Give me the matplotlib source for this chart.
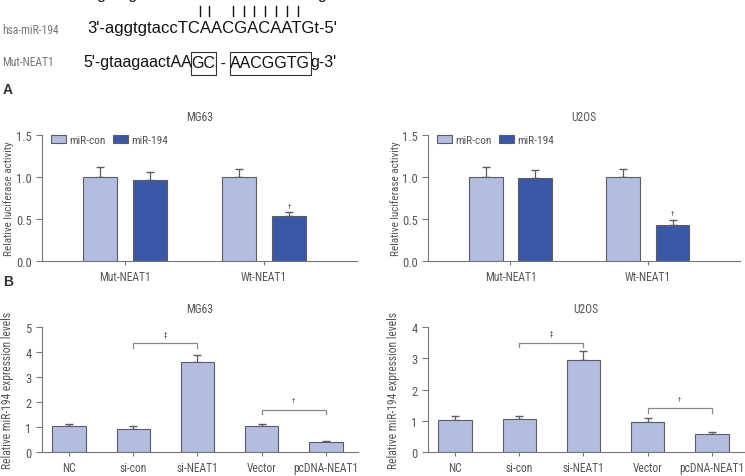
import matplotlib
matplotlib.use('Agg')
import matplotlib.pyplot as plt
from matplotlib import font_manager
from matplotlib.lines import Line2D
from matplotlib.patches import Rectangle
import numpy as np

# luciferase assay
luc_groups = ['Mut-NEAT1', 'Wt-NEAT1']
mg63_con = [1.00, 1.00]
mg63_con_err = [0.12, 0.10]
mg63_mir = [0.96, 0.53]
mg63_mir_err = [0.10, 0.05]
u2os_con = [1.00, 1.00]
u2os_con_err = [0.12, 0.10]
u2os_mir = [0.99, 0.43]
u2os_mir_err = [0.09, 0.06]

# expression levels
expr_groups = ['NC', 'si-con', 'si-NEAT1', 'Vector', 'pcDNA-NEAT1']
mg63_expr = [1.03, 0.91, 3.60, 1.03, 0.42]
mg63_expr_err = [0.10, 0.15, 0.30, 0.11, 0.04]
u2os_expr = [1.01, 1.05, 2.93, 0.96, 0.57]
u2os_expr_err = [0.13, 0.09, 0.29, 0.12, 0.07]

# brackets: (i, j, height, mark)
mg63_sig = [(1, 2, 4.35, '‡'), (3, 4, 1.70, '†')]
u2os_sig = [(1, 2, 3.50, '‡'), (3, 4, 1.40, '†')]

light = '#b3bde0'
dark = '#3b58a6'
edge = '#5c5c66'
grey = '#555555'

# pick a narrow font if there is one
names = {f.name for f in font_manager.fontManager.ttflist}
narrow = None
for n in ['Liberation Sans Narrow', 'Roboto Condensed', 'Open Sans Condensed', 'Arial Narrow', 'DejaVu Sans Condensed']:
    if n in names:
        narrow = n
        break
if narrow:
    cond = [narrow, 'DejaVu Sans']
    k = 1.0
else:
    cond = ['Liberation Sans', 'DejaVu Sans']
    k = 0.88
plt.rcParams['font.family'] = cond
plt.rcParams['text.color'] = grey
plt.rcParams['axes.edgecolor'] = '#777777'
plt.rcParams['xtick.color'] = '#777777'
plt.rcParams['ytick.color'] = '#777777'
plt.rcParams['xtick.labelcolor'] = grey
plt.rcParams['ytick.labelcolor'] = grey

fig = plt.figure(figsize=(7.45, 4.77), dpi=100)
W, H = 745, 477


def px_axes(x0, y0, x1, y1):
    return fig.add_axes([x0 / W, 1 - y1 / H, (x1 - x0) / W, (y1 - y0) / H])


def style(ax):
    for s in ['top', 'right']:
        ax.spines[s].set_visible(False)
    ax.tick_params(labelsize=9 * k, length=4, width=0.8)
    ax.tick_params(axis='x', length=3, labelsize=8.3 * k)


def luc_panel(ax, title, con, con_err, mir, mir_err, mark_y):
    x = np.arange(len(luc_groups))
    ax.bar(x - 0.18, con, 0.245, color=light, edgecolor=edge, lw=0.8, label='miR-con', zorder=2)
    ax.bar(x + 0.18, mir, 0.245, color=dark, edgecolor=edge, lw=0.8, label='miR-194', zorder=2)
    ax.errorbar(x - 0.18, con, yerr=[np.zeros(2), con_err], fmt='none', ecolor=edge, elinewidth=0.9, capsize=3, zorder=1)
    ax.errorbar(x + 0.18, mir, yerr=[np.zeros(2), mir_err], fmt='none', ecolor=edge, elinewidth=0.9, capsize=3, zorder=1)
    ax.text(1 + 0.18, mir[1] + mir_err[1] + mark_y, '†', ha='center', va='bottom', fontsize=5, color=grey)
    ax.set_xlim(-0.6, 1.67)
    ax.set_ylim(0, 1.5)
    ax.set_yticks([0, 0.5, 1.0, 1.5])
    ax.set_yticklabels(['0.0', '0.5', '1.0', '1.5'])
    ax.set_xticks(x)
    ax.set_xticklabels(luc_groups)
    ax.set_ylabel('Relative luciferase activity', fontsize=8 * k, color=grey)
    ax.set_title(title, fontsize=8.3 * k, color=grey, pad=11)
    ax.legend(ncol=2, loc='upper left', bbox_to_anchor=(0.03, 1.0), frameon=False, fontsize=8.2 * k,
              borderpad=0, borderaxespad=0, handlelength=1.3, handleheight=0.7,
              handletextpad=0.25, columnspacing=0.7, labelcolor=grey)
    style(ax)


def expr_panel(ax, title, vals, errs, sig, ymax):
    x = np.arange(len(expr_groups))
    ax.bar(x, vals, 0.52, color=light, edgecolor=edge, lw=0.8, zorder=2)
    ax.errorbar(x, vals, yerr=[np.zeros(len(x)), errs], fmt='none', ecolor=edge, elinewidth=0.9, capsize=3, zorder=1)
    for i, j, h, m in sig:
        d = ymax * 0.035
        ax.plot([i, i, j, j], [h - d, h, h, h - d], color='#888888', lw=0.9)
        ax.text((i + j) / 2, h + ymax * 0.045, m, ha='center', va='bottom', fontsize=5, color=grey)
    ax.set_xlim(-0.42, 4.5)
    ax.set_ylim(0, ymax)
    ax.set_yticks(range(ymax + 1))
    ax.set_xticks(x)
    ax.set_xticklabels(expr_groups)
    ax.set_ylabel('Relative miR-194 expression levels', fontsize=8.3 * k, color=grey)
    ax.set_title(title, fontsize=8.3 * k, color=grey, pad=11)
    style(ax)


ax1 = px_axes(42, 136, 357, 262)
luc_panel(ax1, 'MG63', mg63_con, mg63_con_err, mg63_mir, mg63_mir_err, 0.03)
ax2 = px_axes(428, 136, 740, 262)
luc_panel(ax2, 'U2OS', u2os_con, u2os_con_err, u2os_mir, u2os_mir_err, 0.03)
ax3 = px_axes(42, 328, 358, 453)
expr_panel(ax3, 'MG63', mg63_expr, mg63_expr_err, mg63_sig, 5)
ax4 = px_axes(428, 328, 744, 453)
expr_panel(ax4, 'U2OS', u2os_expr, u2os_expr_err, u2os_sig, 4)

for ax in [ax1, ax2, ax3, ax4]:
    ax.yaxis.set_label_coords(-0.088, 0.5)

# panel letters
fig.text(3 / W, 1 - 90 / H, 'A', fontsize=10, fontweight='bold', color='#333333', family='Liberation Sans', va='center')
fig.text(3 / W, 1 - 282 / H, 'B', fontsize=10, fontweight='bold', color='#333333', family='Liberation Sans', va='center')
fig.text(3 / W, 1 - 483 / H, 'C', fontsize=10, fontweight='bold', color='#333333', family='Liberation Sans', va='center')

# sequence alignment
fig.text(2 / W, 1 - 30 / H, 'hsa-miR-194', fontsize=8.3 * k, color='#777777', va='center')
fig.text(2 / W, 1 - 63 / H, 'Mut-NEAT1', fontsize=8.3 * k, color='#777777', va='center')
seq_kw = dict(fontsize=11.5, color='#111111', family='Liberation Sans', va='center')
fig.text(87 / W, 1 - 29 / H, "3'-aggtgtaccTCAACGACAATGt-5'", **dict(seq_kw, fontsize=12))
fig.text(80 / W, 1 - (-5) / H, "5'-gtaagaactAAGUUGCUGUUACg-3'", **seq_kw)
for px in [200, 209, 233, 244, 254, 265, 276, 287, 298]:
    fig.add_artist(Line2D([px / W, px / W], [1 - 7 / H, 1 - 17 / H], color='#111111', lw=1.0))

fig.canvas.draw()
r = fig.canvas.get_renderer()
xpos = 83
pieces = [("5'-gtaagaactAA", False), ("GC", True), (" - ", False), ("AACGGTG", True), ("g-3'", False)]
for s, boxed in pieces:
    t = fig.text(xpos / W, 1 - 63 / H, s, **seq_kw)
    bb = t.get_window_extent(r)
    if boxed:
        fig.add_artist(Rectangle(((xpos - 0.5) / W, 1 - 76 / H), (bb.width + 1) / W, 23 / H,
                                 fill=False, ec='#333333', lw=0.8, transform=fig.transFigure))
    xpos += bb.width

fig.savefig('out.png', dpi=100)
